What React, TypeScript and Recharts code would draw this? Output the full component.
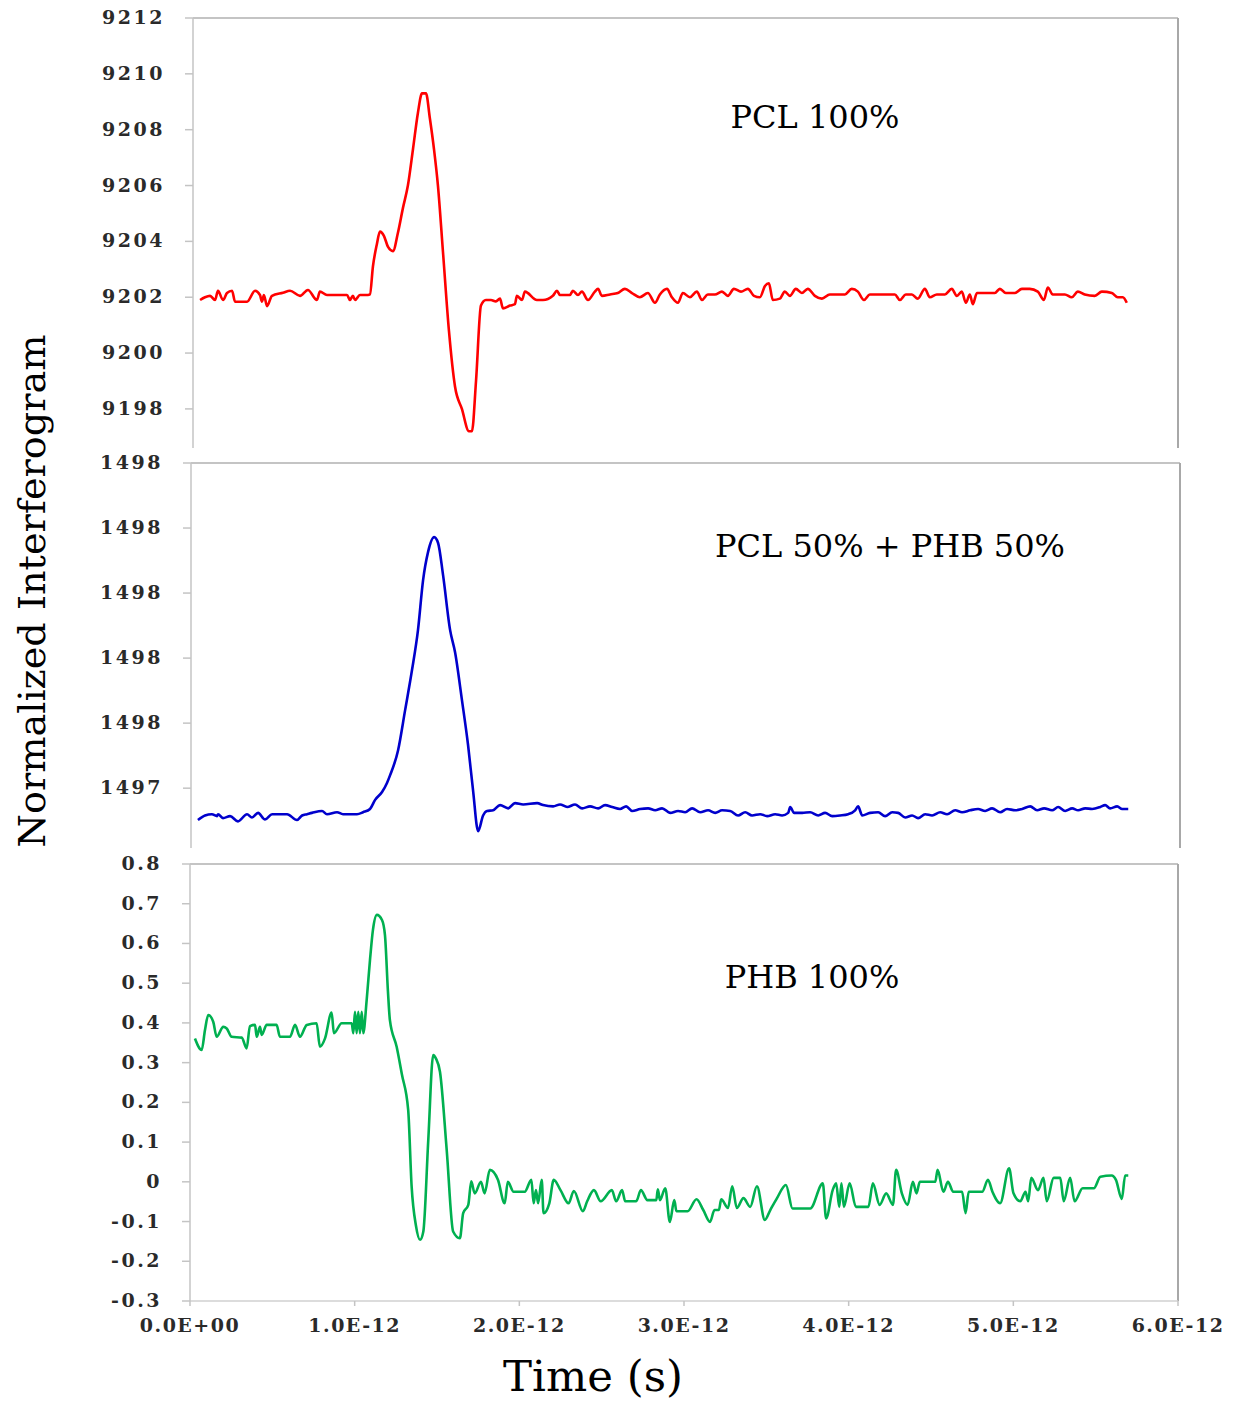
import React from "react";
import { LineChart, Line, XAxis, YAxis, ReferenceLine } from "recharts";

const FONT = "'DejaVu Serif', serif";

// ---- Time (in units of 1E-12 s) and values ----
const redTime = [
  0.043, 0.073, 0.104, 0.134, 0.152, 0.183, 0.207, 0.238, 0.256, 0.329,
  0.378, 0.408, 0.42, 0.432, 0.451, 0.481, 0.548, 0.591, 0.652, 0.7,
  0.755, 0.773, 0.816, 0.938, 0.956, 0.974, 0.987, 1.017, 1.066, 1.078,
  1.096, 1.12, 1.139, 1.163, 1.188, 1.218, 1.248, 1.279, 1.309, 1.34,
  1.37, 1.395, 1.419, 1.443, 1.468, 1.492, 1.523, 1.559, 1.596, 1.638,
  1.681, 1.699, 1.724, 1.754, 1.784, 1.815, 1.845, 1.87, 1.888, 1.931,
  1.961, 1.973, 2.004, 2.022, 2.095, 2.132, 2.192, 2.217, 2.235, 2.296,
  2.314, 2.345, 2.369, 2.406,
  2.448, 2.467, 2.491, 2.54, 2.588, 2.631, 2.674, 2.722, 2.771, 2.814,
  2.844, 2.887, 2.917, 2.954, 2.984, 3.027, 3.069, 3.1, 3.136, 3.179,
  3.222, 3.258, 3.295, 3.338, 3.38, 3.417, 3.453, 3.484, 3.508, 3.532,
  3.575, 3.605, 3.636, 3.672, 3.709, 3.745, 3.788, 3.831, 3.879, 3.971,
  4.013, 4.05, 4.087, 4.123, 4.214, 4.275, 4.306, 4.342, 4.379, 4.415,
  4.458, 4.488, 4.531, 4.58, 4.622, 4.653, 4.683, 4.708, 4.732, 4.75,
  4.775, 4.823, 4.884, 4.915, 4.951, 5.006, 5.049, 5.097, 5.146, 5.183,
  5.207, 5.237, 5.311, 5.353, 5.39, 5.432, 5.493, 5.536, 5.597, 5.633,
  5.664, 5.688,
];
const redValues = [
  9201.9, 9202.0, 9202.05, 9201.9, 9202.23, 9201.9, 9202.15, 9202.23, 9201.84, 9201.84,
  9202.23, 9202.08, 9201.84, 9202.08, 9201.68, 9202.05, 9202.16, 9202.23, 9202.05, 9202.26,
  9201.9, 9202.2, 9202.08, 9202.08, 9201.9, 9202.05, 9201.9, 9202.08, 9202.08, 9202.1,
  9203.1, 9203.9, 9204.35, 9204.2, 9203.8, 9203.65, 9204.3, 9205.2, 9206.0, 9207.3,
  9208.6, 9209.3, 9209.3, 9208.4, 9207.3, 9206.0, 9203.6, 9200.8, 9198.8, 9198.0,
  9197.2, 9197.2, 9199.0, 9201.7, 9201.9, 9201.9, 9201.85, 9201.95, 9201.6, 9201.7,
  9201.75, 9202.05, 9201.9, 9202.2, 9201.9, 9201.9, 9202.05, 9202.23, 9202.08, 9202.08,
  9202.23, 9202.08, 9202.2, 9201.9,
  9202.2, 9202.3, 9202.05, 9202.1, 9202.15, 9202.3, 9202.15, 9202.0, 9202.15, 9201.8,
  9202.1, 9202.3, 9202.0, 9201.8, 9202.15, 9202.0, 9202.2, 9201.9, 9202.1, 9202.1,
  9202.2, 9202.05, 9202.3, 9202.2, 9202.3, 9202.05, 9202.0, 9202.4, 9202.5, 9201.9,
  9201.95, 9202.2, 9202.05, 9202.3, 9202.15, 9202.3, 9202.05, 9201.95, 9202.1, 9202.1,
  9202.3, 9202.2, 9201.9, 9202.1, 9202.1, 9202.1, 9201.9, 9202.1, 9202.1, 9201.95,
  9202.3, 9202.0, 9202.1, 9202.1, 9202.3, 9202.05, 9202.2, 9201.8, 9202.1, 9201.75,
  9202.15, 9202.15, 9202.15, 9202.3, 9202.15, 9202.15, 9202.3, 9202.3, 9202.2, 9201.9,
  9202.35, 9202.1, 9202.1, 9202.0, 9202.2, 9202.1, 9202.05, 9202.2, 9202.15, 9202.0,
  9202.0, 9201.8,
];

const blueTime = [
  0.042, 0.085, 0.127, 0.158, 0.164, 0.194, 0.237, 0.285, 0.34, 0.37,
  0.407, 0.449, 0.492, 0.583, 0.643, 0.674, 0.704, 0.734, 0.795, 0.825,
  0.886, 0.922, 1.007, 1.044, 1.086, 1.117, 1.159, 1.189, 1.208, 1.256,
  1.299, 1.341, 1.377, 1.408, 1.438, 1.475, 1.499, 1.529, 1.572, 1.602,
  1.644, 1.681, 1.711, 1.742, 1.772, 1.796, 1.833, 1.875, 1.924, 1.966,
  2.015, 2.1, 2.136, 2.197, 2.239, 2.282, 2.33, 2.373, 2.421, 2.47,
  2.512, 2.555, 2.603, 2.64, 2.676, 2.725, 2.773, 2.816, 2.858, 2.907,
  2.955, 2.998, 3.04, 3.089, 3.137, 3.18, 3.222, 3.271, 3.319, 3.362,
  3.404, 3.453, 3.495, 3.544, 3.586, 3.623, 3.635, 3.659, 3.708, 3.756,
  3.805, 3.847, 3.89, 3.938, 3.987, 4.029, 4.047, 4.072, 4.12, 4.169,
  4.211, 4.254, 4.29, 4.333, 4.375, 4.411, 4.454, 4.496, 4.545, 4.587,
  4.636, 4.678, 4.727, 4.775, 4.818, 4.86, 4.909, 4.951, 5.0, 5.042,
  5.091, 5.133, 5.176, 5.224, 5.261, 5.303, 5.346, 5.382, 5.425, 5.467,
  5.516, 5.546, 5.576, 5.619, 5.649, 5.686,
];
const blueValues = [
  1497.351, 1497.358, 1497.36, 1497.357, 1497.36, 1497.354, 1497.357, 1497.349, 1497.36, 1497.355,
  1497.362, 1497.352, 1497.36, 1497.36, 1497.351, 1497.358, 1497.36, 1497.362, 1497.365, 1497.36,
  1497.363, 1497.36, 1497.36, 1497.363, 1497.368, 1497.382, 1497.394, 1497.408, 1497.42, 1497.458,
  1497.52, 1497.582, 1497.643, 1497.72, 1497.763, 1497.786, 1497.777, 1497.728, 1497.643, 1497.609,
  1497.535, 1497.466, 1497.397, 1497.334, 1497.358, 1497.365, 1497.366, 1497.374, 1497.369, 1497.377,
  1497.375, 1497.377, 1497.374, 1497.372, 1497.375, 1497.371, 1497.375, 1497.369, 1497.372, 1497.369,
  1497.374, 1497.371, 1497.368, 1497.372, 1497.365, 1497.368, 1497.369, 1497.366, 1497.369, 1497.362,
  1497.365, 1497.363, 1497.369, 1497.363, 1497.366, 1497.362, 1497.366, 1497.365, 1497.358, 1497.363,
  1497.358, 1497.36, 1497.357, 1497.36, 1497.358, 1497.362, 1497.371, 1497.362, 1497.362, 1497.363,
  1497.358, 1497.362, 1497.357, 1497.358, 1497.36, 1497.366, 1497.372, 1497.358, 1497.362, 1497.363,
  1497.357, 1497.363, 1497.362, 1497.355, 1497.358, 1497.354, 1497.36, 1497.358, 1497.363, 1497.36,
  1497.366, 1497.363, 1497.366, 1497.368, 1497.365, 1497.369, 1497.363, 1497.368, 1497.366, 1497.368,
  1497.372, 1497.366, 1497.369, 1497.366, 1497.371, 1497.365, 1497.369, 1497.366, 1497.369, 1497.368,
  1497.371, 1497.374, 1497.369, 1497.372, 1497.368, 1497.368,
];

const greenTime = [
  0.03, 0.071, 0.091, 0.111, 0.141, 0.162, 0.202, 0.223, 0.253, 0.314,
  0.344, 0.364, 0.395, 0.405, 0.425, 0.435, 0.466, 0.526, 0.546, 0.607,
  0.638, 0.668, 0.709, 0.769, 0.789, 0.82, 0.86, 0.874, 0.921, 0.982,
  0.992, 1.002, 1.012, 1.022, 1.032, 1.043, 1.052, 1.073, 1.093, 1.111,
  1.135, 1.166, 1.184, 1.202, 1.214, 1.255, 1.287, 1.325, 1.346, 1.372,
  1.397, 1.417, 1.447, 1.477, 1.494, 1.518, 1.559, 1.598, 1.639, 1.659,
  1.69, 1.708, 1.729, 1.767, 1.789, 1.821, 1.87, 1.911, 1.93, 1.965,
  2.033, 2.073, 2.087, 2.101, 2.114, 2.136, 2.147, 2.182, 2.209, 2.25,
  2.299, 2.331, 2.386, 2.412, 2.453, 2.494, 2.562, 2.588, 2.624, 2.643,
  2.71, 2.738, 2.778, 2.832, 2.841, 2.854, 2.886, 2.914, 2.941, 2.954,
  3.022, 3.076, 3.117, 3.158, 3.185, 3.212, 3.226, 3.267, 3.293, 3.321,
  3.361, 3.402, 3.443, 3.491, 3.524, 3.565, 3.619, 3.659, 3.767, 3.843,
  3.863, 3.903, 3.924, 3.943, 3.956, 3.971, 4.006, 4.044, 4.12, 4.147,
  4.188, 4.228, 4.269, 4.288, 4.323, 4.358, 4.39, 4.412, 4.432, 4.46,
  4.526, 4.54, 4.575, 4.603, 4.635, 4.689, 4.71, 4.729, 4.811, 4.846,
  4.873, 4.92, 4.974, 5.001, 5.042, 5.074, 5.09, 5.109, 5.15, 5.183,
  5.203, 5.245, 5.285, 5.306, 5.345, 5.372, 5.421, 5.489, 5.529, 5.597,
  5.623, 5.659, 5.679, 5.698,
];
const greenValues = [
  0.361, 0.332, 0.382, 0.42, 0.403, 0.365, 0.39, 0.386, 0.365, 0.363,
  0.336, 0.392, 0.395, 0.365, 0.39, 0.37, 0.395, 0.395, 0.365, 0.365,
  0.395, 0.365, 0.395, 0.399, 0.34, 0.361, 0.426, 0.374, 0.399, 0.399,
  0.374, 0.428, 0.374, 0.428, 0.374, 0.428, 0.374, 0.458, 0.558, 0.634,
  0.672, 0.659, 0.621, 0.48, 0.407, 0.34, 0.27, 0.181, -0.012, -0.11,
  -0.146, -0.125, 0.105, 0.319, 0.31, 0.277, 0.08, -0.125, -0.142, -0.079,
  -0.058, 0.001, -0.029, 0.0, -0.029, 0.03, 0.005, -0.054, 0.0, -0.025,
  -0.025, 0.005, -0.054, -0.021, -0.054, 0.005, -0.079, -0.054, 0.005, -0.021,
  -0.054, -0.023, -0.074, -0.049, -0.021, -0.049, -0.021, -0.049, -0.021, -0.049,
  -0.049, -0.021, -0.046, -0.046, -0.019, -0.046, -0.016, -0.101, -0.046, -0.074,
  -0.074, -0.044, -0.071, -0.101, -0.071, -0.071, -0.044, -0.066, -0.011, -0.066,
  -0.041, -0.063, -0.011, -0.096, -0.071, -0.041, -0.008, -0.067, -0.067, -0.004,
  -0.092, -0.021, -0.004, -0.063, -0.004, -0.063, -0.004, -0.063, -0.063, -0.004,
  -0.058, -0.029, -0.058, 0.03, -0.029, -0.058, 0.0, -0.029, 0.0, 0.0,
  0.0, 0.03, -0.025, 0.0, -0.025, -0.025, -0.079, -0.025, -0.025, 0.005,
  -0.025, -0.054, 0.034, -0.029, -0.049, -0.025, -0.049, 0.01, -0.021, 0.01,
  -0.049, 0.01, 0.01, -0.049, 0.01, -0.049, -0.016, -0.016, 0.013, 0.016,
  0.005, -0.043, 0.016, 0.016,
];

// ---- Ticks and labels ----
const topTicks = [9198, 9200, 9202, 9204, 9206, 9208, 9210, 9212];
const midTicks = [1497.4, 1497.5, 1497.6, 1497.7, 1497.8, 1497.9];
const botTicks = [-0.3, -0.2, -0.1, 0, 0.1, 0.2, 0.3, 0.4, 0.5, 0.6, 0.7, 0.8];
const timeTicks = [0, 1, 2, 3, 4, 5, 6];
const timeTickLabels = ["0.0E+00", "1.0E-12", "2.0E-12", "3.0E-12", "4.0E-12", "5.0E-12", "6.0E-12"];
const panelLabels = ["PCL 100%", "PCL 50% + PHB 50%", "PHB 100%"];
const yTitle = "Normalized Interferogram";
const xTitle = "Time (s)";

const zip = (t: number[], v: number[]) => t.map((x, i) => ({ t: x, v: v[i] }));

const AXIS = "#c4c4c4";
const BORDER = "#a8a8a8";
const TICK_FILL = "#2a2a2a";

function YTick(props: any) {
  const { x, y, payload, fmt } = props;
  return (
    <text x={x} y={y} dy={6} textAnchor="end" fontFamily={FONT} fontSize={19}
      fontWeight="bold" letterSpacing={2.5} fill={TICK_FILL}>
      {fmt(payload.value)}
    </text>
  );
}

function XTick(props: any) {
  const { x, y, payload } = props;
  const idx = timeTicks.indexOf(payload.value);
  return (
    <text x={x} y={y} dy={22} textAnchor="middle" fontFamily={FONT} fontSize={19}
      fontWeight="bold" letterSpacing={1.5} fill={TICK_FILL}>
      {timeTickLabels[idx]}
    </text>
  );
}

type PanelProps = {
  top: number; height: number; mTop: number; mBottom: number;
  left: number; right: number; data: { t: number; v: number }[];
  color: string; domain: [number, number]; ticks: number[];
  fmt: (v: number) => string; showX: boolean;
};

function Panel(p: PanelProps) {
  return (
    <div style={{ position: "absolute", left: 0, top: p.top }}>
      <LineChart width={1238} height={p.height} data={p.data}
        margin={{ top: p.mTop, right: p.right, bottom: p.mBottom, left: 0 }}>
        <XAxis dataKey="t" type="number" domain={[0, 6]} ticks={timeTicks}
          hide={!p.showX} height={p.showX ? 40 : 0}
          axisLine={{ stroke: "#d0d0d0", strokeWidth: 1.5 }}
          tickLine={{ stroke: AXIS, strokeWidth: 1.5 }} tickSize={5} tickMargin={4}
          tick={<XTick />} interval={0} allowDataOverflow />
        <YAxis type="number" domain={p.domain} ticks={p.ticks} width={p.left}
          axisLine={{ stroke: AXIS, strokeWidth: 1.5 }}
          tickLine={{ stroke: AXIS, strokeWidth: 1.5 }} tickSize={8} tickMargin={20}
          tick={<YTick fmt={p.fmt} />} interval={0} allowDataOverflow />
        <ReferenceLine y={p.domain[1]} stroke={AXIS} strokeWidth={2} ifOverflow="extendDomain" />
        <ReferenceLine x={6} stroke={BORDER} strokeWidth={2} />
        <Line dataKey="v" type="monotone" stroke={p.color} strokeWidth={2.6}
          dot={false} isAnimationActive={false} />
      </LineChart>
    </div>
  );
}

export default function App() {
  return (
    <div style={{ position: "absolute", left: 0, top: 0, width: 1238, height: 1401, background: "#fff", overflow: "hidden" }}>
      <Panel top={0} height={460} mTop={18} mBottom={12} left={193} right={60}
        data={zip(redTime, redValues)} color="#ff0000" domain={[9196.6, 9212]}
        ticks={topTicks} fmt={(v) => String(v)} showX={false} />
      <Panel top={445} height={415} mTop={18} mBottom={12} left={191} right={58}
        data={zip(blueTime, blueValues)} color="#0000cc" domain={[1497.308, 1497.9]}
        ticks={midTicks} fmt={(v) => String(Math.round(v))} showX={false} />
      <Panel top={845} height={556} mTop={19} mBottom={60} left={190} right={60}
        data={zip(greenTime, greenValues)} color="#00b050" domain={[-0.3, 0.8]}
        ticks={botTicks} fmt={(v) => (Math.abs(v) < 1e-9 ? "0" : v.toFixed(1))} showX={true} />
      <svg width={1238} height={1401} style={{ position: "absolute", left: 0, top: 0, pointerEvents: "none" }}>
        <text x={815} y={128} textAnchor="middle" fontFamily={FONT} fontSize={32} fill="#000">{panelLabels[0]}</text>
        <text x={890} y={557} textAnchor="middle" fontFamily={FONT} fontSize={32} fill="#000">{panelLabels[1]}</text>
        <text x={812} y={988} textAnchor="middle" fontFamily={FONT} fontSize={32} fill="#000">{panelLabels[2]}</text>
        <text transform="translate(45,591) rotate(-90)" textAnchor="middle" fontFamily={FONT}
          fontSize={38} fill="#000" textLength={513} lengthAdjust="spacingAndGlyphs">{yTitle}</text>
        <text x={593} y={1391} textAnchor="middle" fontFamily={FONT} fontSize={42} fill="#000"
          textLength={180} lengthAdjust="spacingAndGlyphs">{xTitle}</text>
      </svg>
    </div>
  );
}
